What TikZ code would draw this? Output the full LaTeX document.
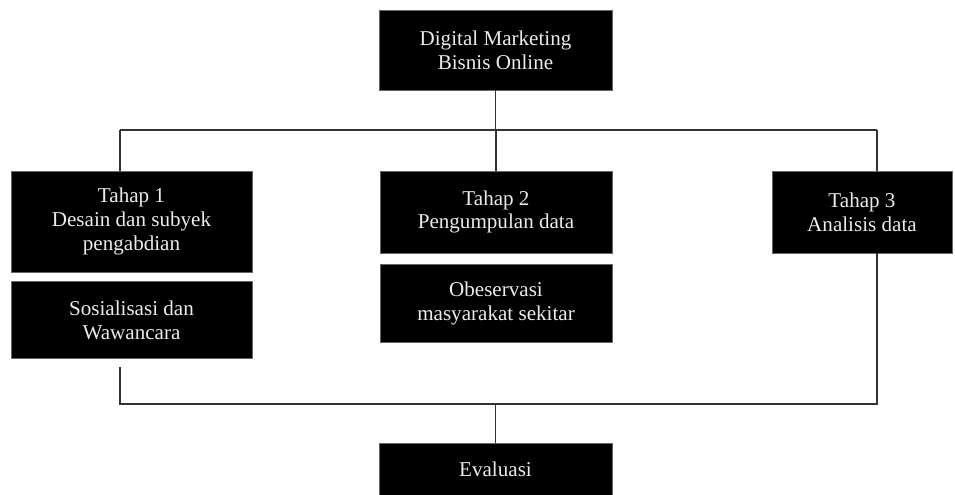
\documentclass[tikz,border=0pt]{standalone}
\usepackage{fontspec}
\setmainfont{Liberation Serif}
\usetikzlibrary{positioning}

\tikzset{
  blok/.style={fill=black, draw=black!60, line width=0.4pt, text=white!92!black,
               align=center, inner sep=0pt, font=\fontsize{12}{13.5}\selectfont},
  garis/.style={draw=black!80, line width=0.9pt}
}

\begin{document}
\begin{tikzpicture}
                \useasboundingbox (0,0) rectangle (19.1,9.9);

                \node[blok, minimum width=4.66cm, minimum height=1.6cm] (judul) at (9.91,8.9) {Digital Marketing\\Bisnis Online};
                \node[blok, minimum width=4.82cm, minimum height=2.02cm] (tahap1) at (2.63,5.47) {Tahap 1\\Desain dan subyek\\pengabdian};
                \node[blok, minimum width=4.82cm, minimum height=1.54cm, below=0.18cm of tahap1] (sosial) {Sosialisasi dan\\Wawancara};
                \node[blok, minimum width=4.64cm, minimum height=1.64cm] (tahap2) at (9.92,5.66) {Tahap 2\\Pengumpulan data};
                \node[blok, minimum width=4.64cm, minimum height=1.56cm, below=0.22cm of tahap2] (observasi) {Obeservasi\\masyarakat sekitar};
                \node[blok, minimum width=3.6cm, minimum height=1.64cm] (tahap3) at (17.24,5.66) {Tahap 3\\Analisis data};
                \node[blok, minimum width=4.66cm, minimum height=1.04cm] (evaluasi) at (9.91,0.52) {Evaluasi};

                % garis atas
                \coordinate (atasL) at (2.4,7.3);
                \coordinate (atasR) at (17.54,7.3);
                \draw[garis] (atasL) -- (atasR);
                \draw[garis] (judul.south) -- (judul.south |- atasL);
                \draw[garis] (atasL) -- (atasL |- tahap1.north);
                \draw[garis] (tahap2.north |- atasL) -- (tahap2.north);
                \draw[garis] (atasR) -- (atasR |- tahap3.north);

                % garis bawah
                \coordinate (bawahL) at (2.4,1.82);
                \coordinate (bawahR) at (17.54,1.82);
                \draw[garis] ([yshift=-0.16cm]sosial.south -| bawahL) -- (bawahL) -- (bawahR) -- (bawahR |- tahap3.south);
                \draw[garis] (evaluasi.north) -- (evaluasi.north |- bawahL);
\end{tikzpicture}
\end{document}
